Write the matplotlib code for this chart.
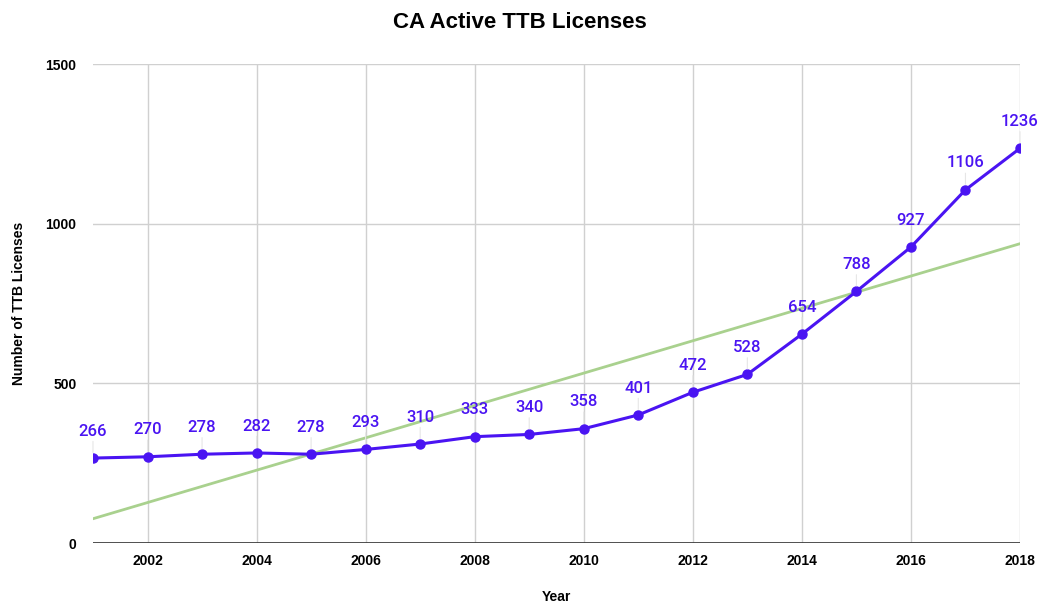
import numpy as np
import matplotlib.pyplot as plt

# Data
years = [2001, 2002, 2003, 2004, 2005, 2006, 2007, 2008, 2009,
         2010, 2011, 2012, 2013, 2014, 2015, 2016, 2017, 2018]
licenses = [266, 270, 278, 282, 278, 293, 310, 333, 340,
            358, 401, 472, 528, 654, 788, 927, 1106, 1236]
x_ticks = [2002, 2004, 2006, 2008, 2010, 2012, 2014, 2016, 2018]
y_ticks = [0, 500, 1000, 1500]

line_color = '#4a14f2'
trend_color = '#a9d18e'
axfont = ['Liberation Sans', 'DejaVu Sans']

fig = plt.figure(figsize=(10.39, 6.08), dpi=100)
ax = fig.add_axes([0.0895, 0.1069, 0.8922, 0.7878])

# Linear trendline (least squares)
coef = np.polyfit(years, licenses, 1)
tx = np.array([years[0], years[-1]])
ax.plot(tx, np.polyval(coef, tx), color=trend_color, lw=2, zorder=2)

# Main series
ax.plot(years, licenses, color=line_color, lw=2.2, marker='o', markersize=6.5, zorder=3)

# Data labels with faint leader lines
for x, y in zip(years, licenses):
    ax.annotate(str(y), xy=(x, y), xytext=(0, 14), textcoords='offset points',
                ha='center', va='bottom', color=line_color, fontsize=12,
                family='Roboto', fontweight='medium',
                arrowprops=dict(arrowstyle='-', color='#e6e6e6', lw=0.8,
                                shrinkA=0, shrinkB=4))

ax.set_xlim(2001, 2018)
ax.set_ylim(0, 1500)
ax.set_xticks(x_ticks)
ax.set_yticks(y_ticks)
ax.set_xticklabels([str(t) for t in x_ticks], family=axfont, fontweight='bold', fontsize=10)
ax.set_yticklabels([str(t) for t in y_ticks], family=axfont, fontweight='bold', fontsize=10)
ax.tick_params(length=0, pad=8)
ax.tick_params(axis='y', pad=12)

ax.grid(True, color='#d0d0d0', lw=1)
ax.set_axisbelow(True)
for s in ax.spines.values():
    s.set_visible(False)
ax.axhline(0, color='#333333', lw=1.2, zorder=1)

ax.set_xlabel('Year', family=axfont, fontweight='bold', fontsize=10, labelpad=16)
ax.set_ylabel('Number of TTB Licenses', family=axfont, fontweight='bold', fontsize=10, labelpad=14)
fig.suptitle('CA Active TTB Licenses', family=axfont, fontweight='bold', fontsize=16, y=0.98)

plt.savefig('out.png', dpi=100)
plt.close()
